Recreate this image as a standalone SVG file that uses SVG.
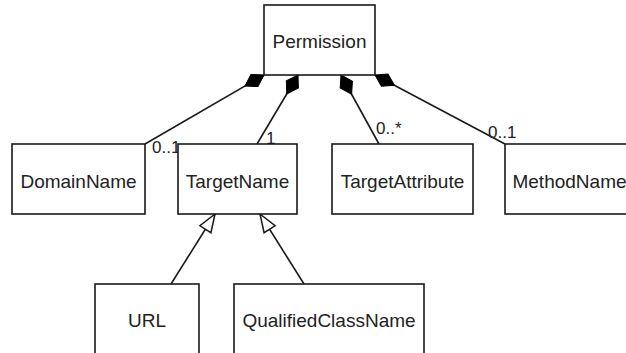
<svg xmlns="http://www.w3.org/2000/svg" width="626" height="353" viewBox="0 0 626 353">
<style>
.box{fill:#fff;stroke:#1a1a1a;stroke-width:1.6}
.name{font-family:"Liberation Sans",Arial,sans-serif;font-size:19px;fill:#222;text-anchor:middle}
.lbl{font-family:"Liberation Sans",Arial,sans-serif;font-size:17px;fill:#222}
.edge{fill:none;stroke:#1a1a1a;stroke-width:1.6}
.comp{marker-start:url(#diamond)}
.gen{marker-end:url(#tri)}
</style>
<defs>
<marker id="diamond" markerUnits="userSpaceOnUse" markerWidth="24" markerHeight="16" refX="0" refY="7" orient="auto" overflow="visible">
<path d="M0,7 L11,0 L22,7 L11,14 Z" fill="#000" stroke="#000" stroke-width="1"/>
</marker>
<marker id="tri" markerUnits="userSpaceOnUse" markerWidth="20" markerHeight="14" refX="18" refY="6.5" orient="auto" overflow="visible">
<path d="M18,6.5 L0,0 L0,13 Z" fill="#fff" stroke="#1a1a1a" stroke-width="1.5"/>
</marker>
</defs>
<rect width="626" height="353" fill="#fff"/>
<g id="connectors">
<path class="edge comp" d="M264,75 L145,144"/>
<path class="edge comp" d="M298,75 L257,144"/>
<path class="edge comp" d="M341,75 L379,144"/>
<path class="edge comp" d="M375,75 L505,144"/>
<path class="edge gen" d="M171,284 L215,214"/>
<path class="edge gen" d="M304,284 L260,214"/>
<text class="lbl" x="152" y="152.5">0..1</text>
<text class="lbl" x="266" y="144">1</text>
<text class="lbl" x="376" y="134">0..*</text>
<text class="lbl" x="488" y="138">0..1</text>
</g>
<g id="Permission">
<rect class="box" x="264" y="5" width="111" height="70"/>
<text class="name" x="319.5" y="48">Permission</text>
</g>
<g id="DomainName">
<rect class="box" x="12" y="144" width="133" height="70"/>
<text class="name" x="78.5" y="187.5">DomainName</text>
</g>
<g id="TargetName">
<rect class="box" x="178" y="144" width="119" height="70"/>
<text class="name" x="237.5" y="187.5">TargetName</text>
</g>
<g id="TargetAttribute">
<rect class="box" x="332" y="144" width="141" height="70"/>
<text class="name" x="402.5" y="187.5">TargetAttribute</text>
</g>
<g id="MethodName">
<rect class="box" x="505" y="144" width="130" height="70"/>
<text class="name" x="569.5" y="187.5">MethodName</text>
</g>
<g id="URL">
<rect class="box" x="95" y="284" width="104" height="75"/>
<text class="name" x="147" y="327">URL</text>
</g>
<g id="QualifiedClassName">
<rect class="box" x="234" y="284" width="190" height="75"/>
<text class="name" x="329" y="327">QualifiedClassName</text>
</g>
</svg>
